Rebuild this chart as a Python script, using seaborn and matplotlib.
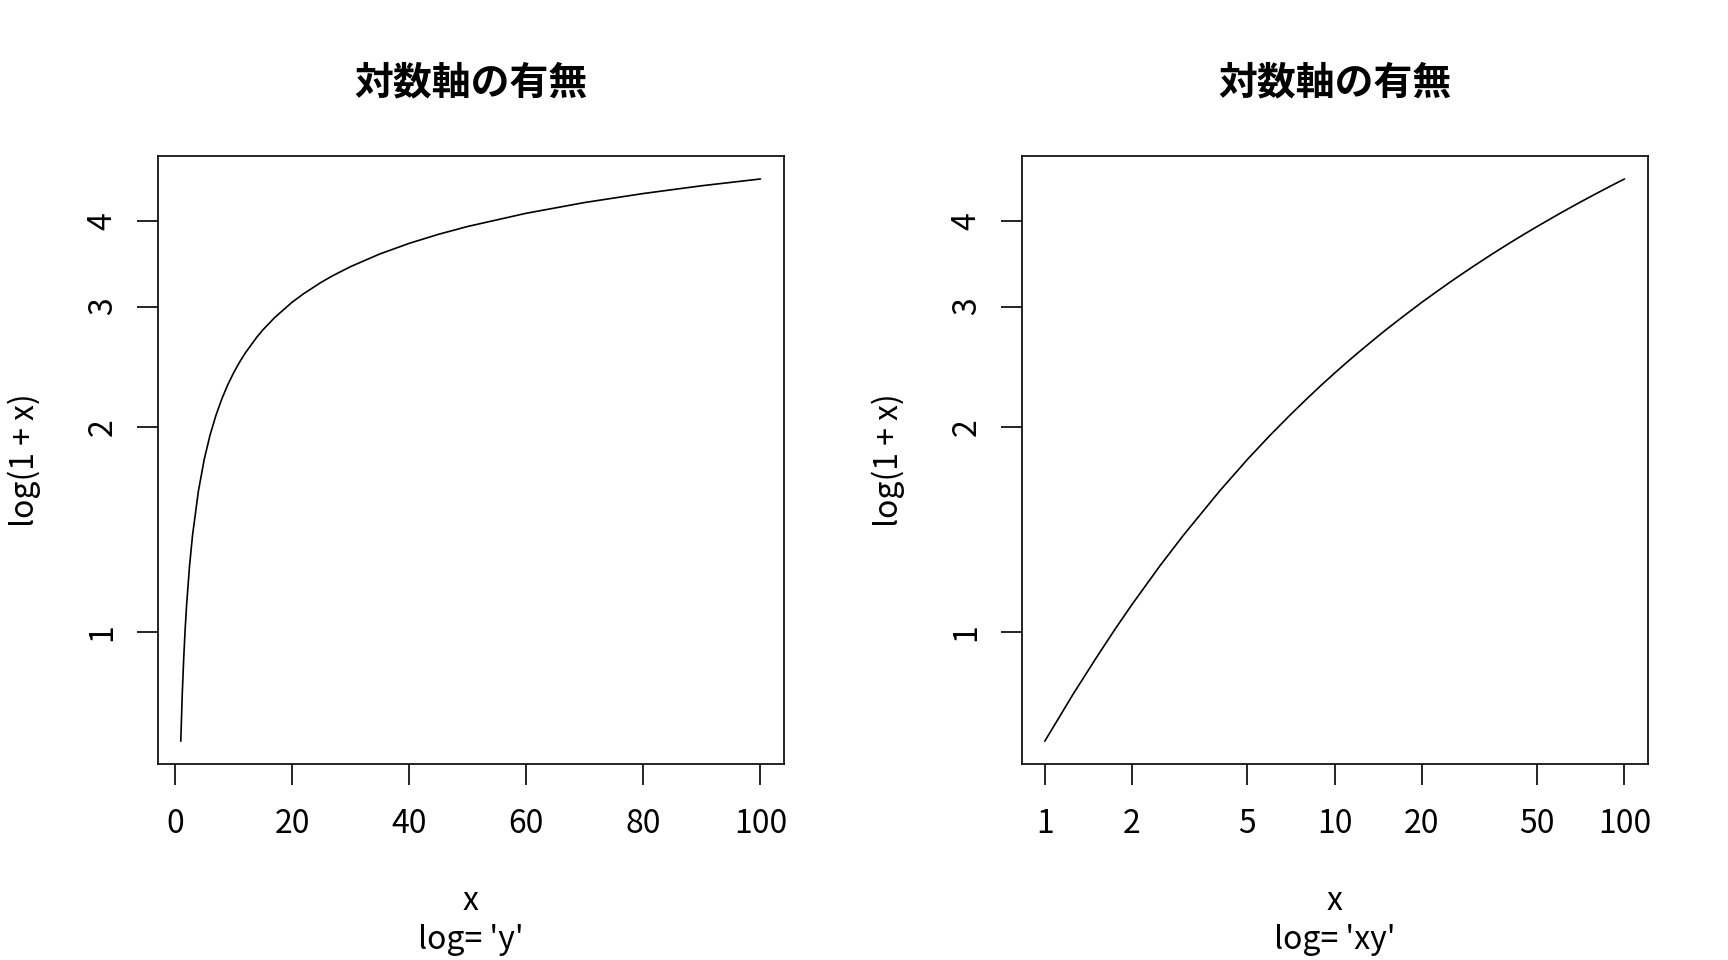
import numpy as np
import pandas as pd
import matplotlib
matplotlib.use("Agg")
import matplotlib.pyplot as plt
import seaborn as sns

# 曲線 log(1 + x) の値
x_vals = [1, 1.25, 1.5, 1.75, 2, 2.5, 3, 4, 5, 6, 7, 8, 9, 10, 11, 12, 14, 15, 17,
          20, 22, 25, 27, 30, 35, 40, 45, 50, 60, 70, 80, 90, 100]
y_vals = [0.693, 0.811, 0.916, 1.012, 1.099, 1.253, 1.386, 1.609, 1.792, 1.946,
          2.079, 2.197, 2.303, 2.398, 2.485, 2.565, 2.708, 2.773, 2.890,
          3.045, 3.135, 3.258, 3.332, 3.434, 3.584, 3.714, 3.829, 3.932,
          4.111, 4.263, 4.394, 4.511, 4.615]

title = "対数軸の有無"
subs = ["log= 'y'", "log= 'xy'"]
y_ticks = [1, 2, 3, 4]
x_ticks_lin = [0, 20, 40, 60, 80, 100]
x_ticks_log = [1, 2, 5, 10, 20, 50, 100]

df = pd.DataFrame({"x": x_vals, "y": y_vals})

sns.set_style("ticks")
plt.rcParams["font.family"] = ["Noto Sans CJK JP", "DejaVu Sans"]
for k in ["text.color", "axes.labelcolor", "xtick.color", "ytick.color"]:
    plt.rcParams[k] = "black"

fig = plt.figure(figsize=(17.28, 9.6), dpi=100)
ax1 = fig.add_axes([0.0912, 0.2045, 0.3623, 0.6325])
ax2 = fig.add_axes([0.5912, 0.2045, 0.3623, 0.6325])

# R風の余白 (4%)
ly0, ly1 = np.log10(min(y_vals)), np.log10(max(y_vals))
pad_y = 0.04 * (ly1 - ly0)
ylim = (10 ** (ly0 - pad_y), 10 ** (ly1 + pad_y))

fs = 23

for i, ax in enumerate([ax1, ax2]):
    sns.lineplot(data=df, x="x", y="y", ax=ax, color="black", linewidth=1.2,
                 estimator=None, sort=False)
    ax.set_yscale("log")
    ax.set_ylim(*ylim)
    if i == 0:
        pad_x = 0.04 * (max(x_vals) - min(x_vals))
        ax.set_xlim(min(x_vals) - pad_x, max(x_vals) + pad_x)
        ax.set_xticks(x_ticks_lin)
        ax.set_xticklabels([str(t) for t in x_ticks_lin])
    else:
        ax.set_xscale("log")
        lx0, lx1 = np.log10(min(x_vals)), np.log10(max(x_vals))
        pad_lx = 0.04 * (lx1 - lx0)
        ax.set_xlim(10 ** (lx0 - pad_lx), 10 ** (lx1 + pad_lx))
        ax.set_xticks(x_ticks_log)
        ax.set_xticklabels([str(t) for t in x_ticks_log])
        ax.xaxis.set_minor_locator(matplotlib.ticker.NullLocator())
    ax.set_yticks(y_ticks)
    ax.set_yticklabels([str(t) for t in y_ticks], rotation=90, va="center")
    ax.yaxis.set_minor_locator(matplotlib.ticker.NullLocator())

    for s in ax.spines.values():
        s.set_visible(True)
        s.set_linewidth(1.2)
        s.set_color("black")
    ax.tick_params(axis="both", which="major", length=15, width=1.2,
                   labelsize=fs, color="black")
    ax.tick_params(axis="x", pad=17)
    ax.tick_params(axis="y", pad=13)

    ax.set_title(title, fontsize=28, fontweight="bold", pad=45)
    ax.set_xlabel("")
    ax.set_ylabel("log(1 + x)", fontsize=fs, labelpad=33)
    ax.text(0.5, -0.226, "x", transform=ax.transAxes, ha="center", va="center",
            fontsize=fs)
    ax.text(0.5, -0.290, subs[i], transform=ax.transAxes, ha="center",
            va="center", fontsize=fs)

fig.savefig("out.png", dpi=100)
